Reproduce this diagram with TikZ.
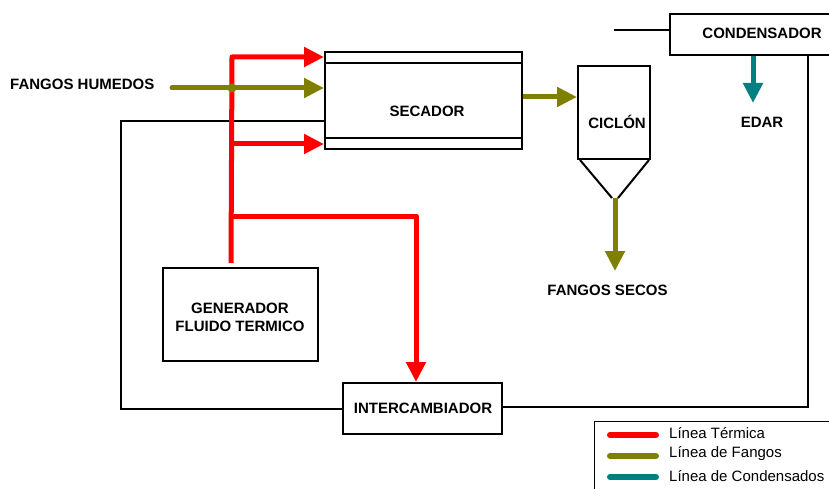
\documentclass[tikz,border=0pt]{standalone}
\usepackage{fontspec}
\setmainfont{Liberation Sans}
\usetikzlibrary{arrows.meta,calc}
\definecolor{termred}{RGB}{255,0,0}
\definecolor{fangolive}{RGB}{128,128,0}
\definecolor{condteal}{RGB}{0,128,128}
\begin{document}
\begin{tikzpicture}[x=1pt,y=-1pt,
  box/.style={draw,line width=2pt,rectangle,inner sep=0pt},
  lbl/.style={font=\bfseries\fontsize{15}{18}\selectfont,align=center,inner sep=0pt},
  leg/.style={font=\fontsize{15}{18}\selectfont,anchor=west,inner sep=0pt},
  tip/.style={-{Triangle[length=20pt,width=19pt]}},
  redline/.style={draw=termred,line width=5pt,line join=round},
  oliveline/.style={draw=fangolive,line width=5pt,line join=round},
  tealline/.style={draw=condteal,line width=5pt},
  thin/.style={draw=black,line width=2pt}]
\useasboundingbox (0,0) rectangle (829,489);

% boxes
\node[box,minimum width=197pt,minimum height=97pt] (sec) at (423.5,100.5) {};
\draw[line width=1.5pt] ($(sec.north west)+(0,12)$) -- ($(sec.north east)+(0,12)$);
\draw[line width=1.5pt] ($(sec.south west)+(0,-12)$) -- ($(sec.south east)+(0,-12)$);
\node[lbl] (seclbl) at (427,111) {SECADOR};

\node[box,minimum width=72pt,minimum height=93pt] (cic) at (614,112.5) {};
\node[lbl] (ciclbl) at (617,122) {CICLÓN};
\coordinate (cone) at (615,198);
\draw[line width=2pt] ($(cic.south west)+(3,0)$) -- ($(cone)+(-3,0)$);
\draw[line width=2pt] ($(cic.south east)+(-2,0)$) -- ($(cone)+(3,0)$);

\node[box,minimum width=184pt,minimum height=41pt] (cond) at (762,34.5) {};
\node[lbl] (condlbl) at (762,33) {CONDENSADOR};
\node[lbl] (edar) at (762,122) {EDAR};

\node[box,minimum width=155pt,minimum height=93pt] (gen) at (240.5,314.5) {};
\node[lbl] (genlbl) at (240,317) {GENERADOR\\FLUIDO TERMICO};

\node[box,minimum width=159pt,minimum height=51pt] (inter) at (422.5,408.5) {};
\node[lbl] (interlbl) at (423,408) {INTERCAMBIADOR};

\node[lbl,anchor=west] (fh) at (10,84) {FANGOS HUMEDOS};
\node[lbl] (fs) at (607.5,290) {FANGOS SECOS};

% black loop lines
\coordinate (cin) at (614,30);
\draw[line width=1.5pt] (cin) -- (cond.west |- cin);
\coordinate (rc) at (808,407);
\draw[thin] (cond.south -| rc) -- (rc) -- (inter.east |- rc);
\coordinate (lc) at (121,121);
\draw[thin] (inter.west) -- (lc |- inter.west) -- (lc) -- (sec.west |- lc);

% red thermal lines
\coordinate (rv) at (232,57);
\coordinate (rbot) at ($(gen.north west)+(69,-4)$);
\coordinate (rmid) at (232,144);
\coordinate (rlow) at (232,216);
\coordinate (rx) at (416,216);
\draw[redline,tip] (rbot) -- (rv) -- (sec.west |- rv);
\draw[redline,tip] (rmid) -- (sec.west |- rmid);
\draw[redline,tip] (rlow) -- (rx) -- (inter.north -| rx);

% olive sludge lines
\coordinate (fstart) at (172,88);
\draw[oliveline,line cap=round,tip] (fstart) -- (sec.west |- fstart);
\node[circle,fill=fangolive,inner sep=0pt,minimum size=9pt] (jn) at (232,88) {};
\coordinate (sc) at (0,97);
\draw[oliveline,tip] (sec.east |- sc) -- (cic.west |- sc);
\coordinate (fsend) at (615,271);
\draw[oliveline,tip] (cone) -- (fsend);

% teal condensate
\coordinate (tc) at (753,103);
\draw[tealline,tip] (cond.south -| tc) -- (tc);

% legend
\node[draw,line width=1.2pt,rectangle,minimum width=250pt,minimum height=80pt,anchor=north west,inner sep=0pt] (legbox) at (594,421) {};
\coordinate (l1) at (610,435);
\coordinate (l2) at (610,456);
\coordinate (l3) at (610,477);
\draw[draw=termred,line width=6pt,line cap=round] (l1) -- ++(46,0);
\draw[draw=fangolive,line width=6pt,line cap=round] (l2) -- ++(46,0);
\draw[draw=condteal,line width=6pt,line cap=round] (l3) -- ++(46,0);
\node[leg] (t1) at (669,433) {Línea Térmica};
\node[leg] (t2) at (669,454) {Línea de Fangos};
\node[leg] (t3) at (669,476) {Línea de Condensados};
\end{tikzpicture}
\end{document}
